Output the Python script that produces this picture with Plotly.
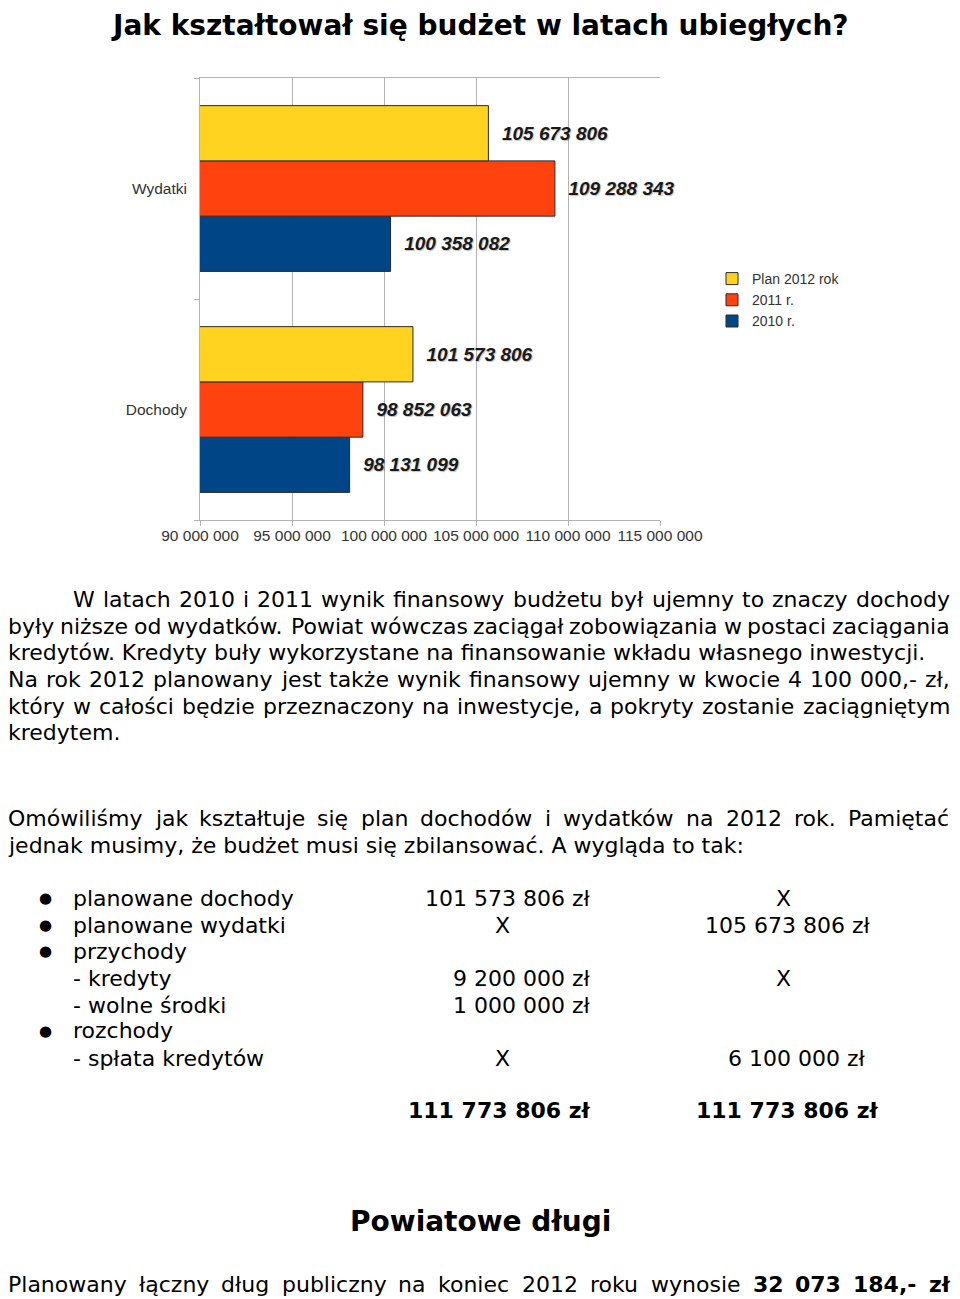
import plotly.graph_objects as go

# ---------------- data ----------------
categories = ["Dochody", "Wydatki"]
series_names = ["2010 r.", "2011 r.", "Plan 2012 rok"]
values_2010 = [98131099, 100358082]
values_2011 = [98852063, 109288343]
values_2012 = [101573806, 105673806]
series_colors = ["#004586", "#FF420E", "#FFD320"]
x_tickvals = [90000000, 95000000, 100000000, 105000000, 110000000, 115000000]
x_ticktext = ["90 000 000", "95 000 000", "100 000 000", "105 000 000", "110 000 000", "115 000 000"]

# page body margin of the html page is 8px: the figure is shifted accordingly
OFF = 8
W, H = 960 - OFF, 1299 - OFF


def px(x):
    return (x - OFF) / W


def py(y):
    return 1 - (y - OFF) / H


def fmt(v):
    return "\u00a0\u00a0" + f"{v:,}".replace(",", " ")


fig = go.Figure()
for name, vals, col in zip(series_names, [values_2010, values_2011, values_2012], series_colors):
    fig.add_trace(go.Bar(
        y=categories, x=vals, name=name, orientation="h",
        marker=dict(color=col, line=dict(color="#2a2a2a", width=1)),
        text=[fmt(v) for v in vals], textposition="outside",
        constraintext="none", cliponaxis=False,
        textfont=dict(family="Liberation Sans", size=19, color="#1a1a1a",
                      weight="bold", style="italic",
                      shadow="1px 1px 1px rgba(0,0,0,0.25)"),
        hoverinfo="skip",
    ))

# ---------------- text helpers ----------------
REG = {' ': 651, 'a': 1255, 'b': 1300, 'c': 1126, 'd': 1300, 'e': 1260, 'f': 721, 'g': 1300,
       'h': 1298, 'i': 569, 'j': 569, 'k': 1186, 'l': 569, 'm': 1995, 'n': 1298, 'o': 1253,
       'p': 1300, 'q': 1300, 'r': 842, 's': 1067, 't': 803, 'u': 1298, 'v': 1212, 'w': 1675,
       'x': 1212, 'y': 1212, 'z': 1075, '.': 651, ',': 651, ':': 690, '-': 739,
       'A': 1401, 'K': 1343, 'N': 1532, 'O': 1612, 'P': 1235, 'W': 2025, 'ł': 590}
BOLD = {' ': 713, ',': 780, '.': 780, '-': 854, 'z': 1196, 'ł': 760}
ACC = {'ą': 'a', 'ć': 'c', 'ę': 'e', 'ń': 'n', 'ó': 'o', 'ś': 's', 'ź': 'z', 'ż': 'z'}


def measure(s, size, bold=False):
    tot = 0
    for ch in s:
        c = ACC.get(ch, ch)
        if bold:
            tot += 1425 if c.isdigit() else BOLD.get(c, 1300)
        else:
            tot += 1303 if c.isdigit() else REG.get(c, 1200)
    return tot / 2048 * size


FONT = "DejaVu Sans"
FS = 22
annots = []


def text_at(s, x, y, anchor="left", size=FS, bold=False, color="#000"):
    annots.append(dict(text=s, x=px(x), y=py(y), xref="paper", yref="paper",
                       xanchor=anchor, yanchor="middle", showarrow=False,
                       borderpad=0, borderwidth=0,
                       font=dict(family=FONT, size=size, color=color,
                                 weight="bold" if bold else "normal")))


def justify(line, x0, x1, y, bold_from=None):
    words = line.split(" ")
    bolds = [bold_from is not None and i >= bold_from for i in range(len(words))]
    widths = [measure(w, FS, b) for w, b in zip(words, bolds)]
    gap = (x1 - x0 - sum(widths)) / (len(words) - 1)
    x = x0
    for w, wd, b in zip(words, widths, bolds):
        text_at(w, x, y, bold=b)
        x += wd + gap


LX = 8     # left text edge (page margin)
RX = 950   # right text edge

# title
text_at("Jak kształtował się budżet w latach ubiegłych?", 480, 25, anchor="center", size=28, bold=True)

# paragraph 1
justify("W latach 2010 i 2011 wynik finansowy budżetu był ujemny to znaczy dochody", 73, RX, 599)
justify("były niższe od wydatków. Powiat wówczas zaciągał zobowiązania w postaci zaciągania", LX, RX, 626)
text_at("kredytów. Kredyty buły wykorzystane na finansowanie wkładu własnego inwestycji.", LX, 652)
justify("Na rok 2012 planowany jest także wynik finansowy ujemny w kwocie 4 100 000,- zł,", LX, RX, 679)
justify("który w całości będzie przeznaczony na inwestycje, a pokryty zostanie zaciągniętym", LX, RX, 706)
text_at("kredytem.", LX, 732)

# paragraph 2
justify("Omówiliśmy jak kształtuje się plan dochodów i wydatków na 2012 rok. Pamiętać", LX, RX, 819)
text_at("jednak musimy, że budżet musi się zbilansować. A wygląda to tak:", LX, 845)

# table
rows_y = [898, 925, 951, 978, 1005, 1031, 1058]
labels = ["planowane dochody", "planowane wydatki", "przychody", "- kredyty", "- wolne środki",
          "rozchody", "- spłata kredytów"]
bullets = [True, True, True, False, False, True, False]
for yy, lab, b in zip(rows_y, labels, bullets):
    if b:
        text_at("●", 45, yy, anchor="center", size=15)
    text_at(lab, 73, yy)

# column 2
text_at("101 573 806 zł", 591, rows_y[0], anchor="right")
text_at("X", 502, rows_y[1], anchor="center")
text_at("9 200 000 zł", 591, rows_y[3], anchor="right")
text_at("1 000 000 zł", 591, rows_y[4], anchor="right")
text_at("X", 502, rows_y[6], anchor="center")
# column 3
text_at("X", 783, rows_y[0], anchor="center")
text_at("105 673 806 zł", 788, rows_y[1], anchor="center")
text_at("X", 783, rows_y[3], anchor="center")
text_at("6 100 000 zł", 866, rows_y[6], anchor="right")
# totals
text_at("111 773 806 zł", 591, 1110, anchor="right", bold=True)
text_at("111 773 806 zł", 787, 1110, anchor="center", bold=True)

# debt section
text_at("Powiatowe długi", 480, 1221, anchor="center", size=28, bold=True)
justify("Planowany łączny dług publiczny na koniec 2012 roku wynosie 32 073 184,- zł", LX, RX, 1284,
        bold_from=9)

GRID = "#b3b3b3"
AX_FONT = dict(family="Liberation Sans", size=15.5, color="#333")

fig.update_layout(
    width=W, height=H, autosize=False,
    margin=dict(l=0, r=0, t=0, b=0, autoexpand=False),
    paper_bgcolor="white", plot_bgcolor="white",
    barmode="group", bargap=0.25, bargroupgap=0,
    showlegend=True,
    legend=dict(x=px(712), y=py(263), xanchor="left", yanchor="top",
                traceorder="reversed", font=dict(family="Liberation Sans", size=14, color="#333"),
                bgcolor="rgba(0,0,0,0)", borderwidth=0, itemclick=False),
    xaxis=dict(domain=[px(200), px(660)], range=[90000000, 115000000],
               tickvals=x_tickvals, ticktext=x_ticktext, tickfont=AX_FONT, tickangle=0,
               automargin=False, ticklabelstandoff=-4,
               showgrid=True, gridcolor=GRID, gridwidth=1,
               showline=True, linecolor=GRID, linewidth=1, mirror=True,
               ticks="outside", ticklen=5, tickcolor=GRID, zeroline=False, fixedrange=True),
    yaxis=dict(domain=[py(520), py(78)], categoryorder="array", categoryarray=categories,
               tickfont=AX_FONT, showgrid=False, automargin=False,
               showline=True, linecolor=GRID, linewidth=1,
               ticks="outside", ticklen=5, tickcolor=GRID, tickson="boundaries",
               ticklabelstandoff=9, fixedrange=True),
    annotations=annots,
)

fig.write_html("out.html")
